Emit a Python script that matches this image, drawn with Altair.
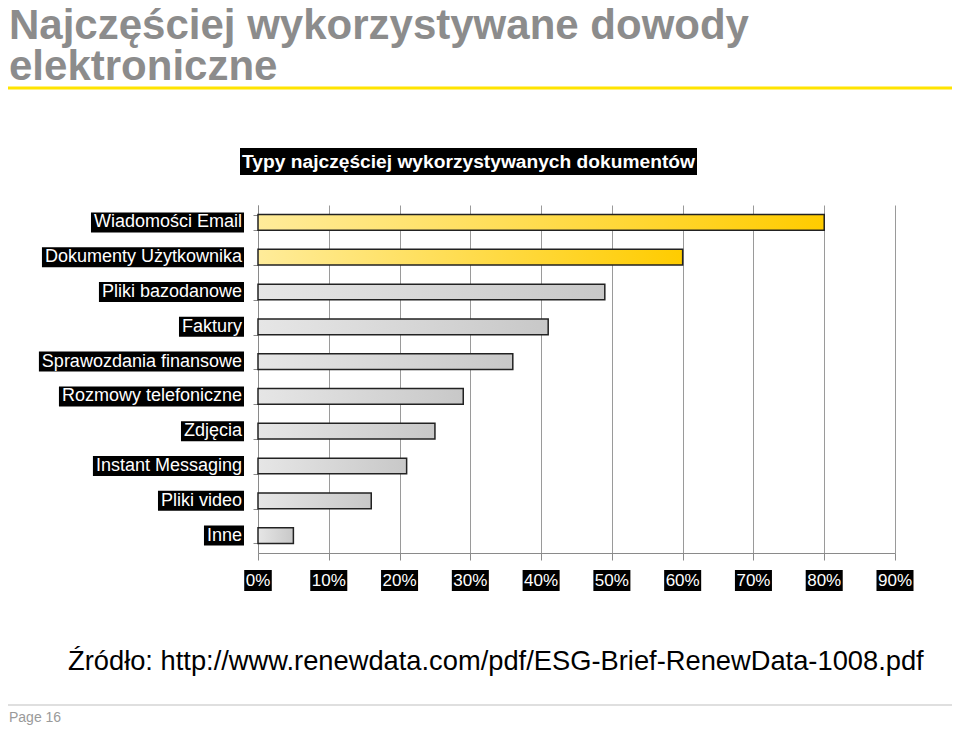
import altair as alt
import pandas as pd

# ---------------- data ----------------
categories = [
    "Wiadomości Email",
    "Dokumenty Użytkownika",
    "Pliki bazodanowe",
    "Faktury",
    "Sprawozdania finansowe",
    "Rozmowy telefoniczne",
    "Zdjęcia",
    "Instant Messaging",
    "Pliki video",
    "Inne",
]
values = [80, 60, 49, 41, 36, 29, 25, 21, 16, 5]
groups = ["top", "top", "other", "other", "other", "other", "other", "other", "other", "other"]
tick_values = [0, 10, 20, 30, 40, 50, 60, 70, 80, 90]
tick_labels = ["0%", "10%", "20%", "30%", "40%", "50%", "60%", "70%", "80%", "90%"]

main_title_1 = "Najczęściej wykorzystywane dowody"
main_title_2 = "elektroniczne"
chart_title = "Typy najczęściej wykorzystywanych dokumentów"
source_text = "Źródło: http://www.renewdata.com/pdf/ESG-Brief-RenewData-1008.pdf"
page_text = "Page 16"

# ---------------- layout ----------------
W, H = 637, 348
XMAX = 90
PPU = W / XMAX
FONT = "Liberation Sans, Arial, Helvetica, sans-serif"

# Arial / Liberation Sans advance widths (per 1000 em) for label box sizing
AW = {
    "a": 556, "b": 556, "c": 500, "d": 556, "e": 556, "f": 278, "g": 556, "h": 556,
    "i": 222, "j": 222, "k": 500, "l": 222, "m": 833, "n": 556, "o": 556, "p": 556,
    "r": 333, "s": 500, "t": 278, "u": 556, "v": 500, "w": 722, "y": 500, "z": 500,
    " ": 278, "ś": 500, "ę": 556, "ż": 500, "ó": 556, "ł": 222,
    "W": 944, "E": 667, "D": 722, "U": 722, "P": 667, "F": 611, "S": 667, "R": 722,
    "Z": 611, "I": 278, "M": 833, "%": 889,
}
for d in "0123456789":
    AW[d] = 556


def text_w(s, size):
    return sum(AW.get(ch, 556) for ch in s) * size / 1000.0


df = pd.DataFrame({"cat": categories, "val": values, "grp": groups})
df["bl"] = [(-19 - text_w(c, 18)) / PPU for c in categories]
df["br"] = -14 / PPU

ticks = pd.DataFrame({"v": tick_values, "lab": tick_labels})
ticks["l"] = [v - (text_w(t, 17) / 2 + 1.5) / PPU for v, t in zip(tick_values, tick_labels)]
ticks["r"] = [v + (text_w(t, 17) / 2 + 1.5) / PPU for v, t in zip(tick_values, tick_labels)]

yscale = alt.Scale(domain=categories, paddingInner=0.55, paddingOuter=0.275)
xscale = alt.Scale(domain=[0, XMAX], nice=False, zero=True)

yellow = alt.Gradient(
    gradient="linear", x1=0, x2=1, y1=0, y2=0,
    stops=[alt.GradientStop(color="#FFEC9A", offset=0),
           alt.GradientStop(color="#FFCC00", offset=1)],
)
gray = alt.Gradient(
    gradient="linear", x1=0, x2=1, y1=0, y2=0,
    stops=[alt.GradientStop(color="#E6E6E6", offset=0),
           alt.GradientStop(color="#C8C8C8", offset=1)],
)

base = alt.Chart(df)

xaxis = alt.Axis(
    labels=False, title=None, grid=True, gridColor="#9a9a9a", gridWidth=1,
    domainColor="#8a8a8a", tickColor="#8a8a8a", tickSize=7, values=tick_values,
)
yaxis = alt.Axis(
    labels=False, title=None, grid=False, domainColor="#8a8a8a",
    tickColor="#8a8a8a", tickSize=5, tickBand="extent",
)

bars_top = base.transform_filter(alt.datum.grp == "top").mark_bar(
    fill=yellow, stroke="#222222", strokeWidth=1.5
).encode(
    x=alt.X("val:Q", scale=xscale, axis=xaxis),
    y=alt.Y("cat:N", scale=yscale, sort=categories, axis=yaxis),
)
bars_other = base.transform_filter(alt.datum.grp == "other").mark_bar(
    fill=gray, stroke="#222222", strokeWidth=1.5
).encode(
    x=alt.X("val:Q", scale=xscale),
    y=alt.Y("cat:N", scale=yscale, sort=categories),
)

# y labels: white text on black boxes
label_boxes = base.mark_bar(color="black", size=20).encode(
    x=alt.X("bl:Q", scale=xscale), x2="br:Q",
    y=alt.Y("cat:N", scale=yscale, sort=categories),
)
label_text = base.mark_text(
    align="right", baseline="middle", color="white", fontSize=18, font=FONT
).encode(
    x=alt.value(-16),
    y=alt.Y("cat:N", scale=yscale, sort=categories),
    text="cat:N",
)

# x labels: white text on black boxes
tbase = alt.Chart(ticks)
tick_boxes = tbase.mark_rect(color="black").encode(
    x=alt.X("l:Q", scale=xscale), x2="r:Q",
    y=alt.value(365), y2=alt.value(386),
)
tick_text = tbase.mark_text(
    align="center", baseline="middle", color="white", fontSize=17, font=FONT
).encode(
    x=alt.X("v:Q", scale=xscale), y=alt.value(376), text="lab:N",
)

# decorations
one = pd.DataFrame({"k": [0]})
title_box = alt.Chart(one).mark_rect(color="black").encode(
    x=alt.value(-18), x2=alt.value(439), y=alt.value(-57), y2=alt.value(-30)
)
title_txt = alt.Chart(one).mark_text(
    text=chart_title, align="center", baseline="middle", color="white",
    fontSize=19.2, fontWeight="bold", font=FONT,
).encode(x=alt.value(210.5), y=alt.value(-43))

main_txt1 = alt.Chart(one).mark_text(
    text=main_title_1, align="left", baseline="alphabetic", color="#8C8C8C",
    fontSize=42, fontWeight="bold", font=FONT,
).encode(x=alt.value(-249), y=alt.value(-166))
main_txt2 = alt.Chart(one).mark_text(
    text=main_title_2, align="left", baseline="alphabetic", color="#8C8C8C",
    fontSize=42, fontWeight="bold", font=FONT,
).encode(x=alt.value(-249), y=alt.value(-125))

yellow_line = alt.Chart(one).mark_rule(color="#FFE400", strokeWidth=3).encode(
    x=alt.value(-260), x2=alt.value(710), y=alt.value(-117)
)

source_txt = alt.Chart(one).mark_text(
    text=source_text, align="left", baseline="middle", color="black",
    fontSize=27.3, font=FONT,
).encode(x=alt.value(-190), y=alt.value(457))

page_line = alt.Chart(one).mark_rule(color="#D4D4D4", strokeWidth=1.5).encode(
    x=alt.value(-260), x2=alt.value(710), y=alt.value(500)
)
page_txt = alt.Chart(one).mark_text(
    text=page_text, align="left", baseline="middle", color="#9A9A9A",
    fontSize=14, font=FONT,
).encode(x=alt.value(-249), y=alt.value(513))

chart = alt.layer(
    bars_top, bars_other, label_boxes, label_text, tick_boxes, tick_text,
    title_box, title_txt, main_txt1, main_txt2, yellow_line, source_txt,
    page_line, page_txt,
).properties(
    width=W, height=H,
    autosize=alt.AutoSizeParams(type="none"),
    padding={"left": 250, "top": 197, "right": 57, "bottom": 174},
    background="white",
).configure_view(stroke=None)

chart.save("out.html", embed_options={"renderer": "svg", "actions": False})
